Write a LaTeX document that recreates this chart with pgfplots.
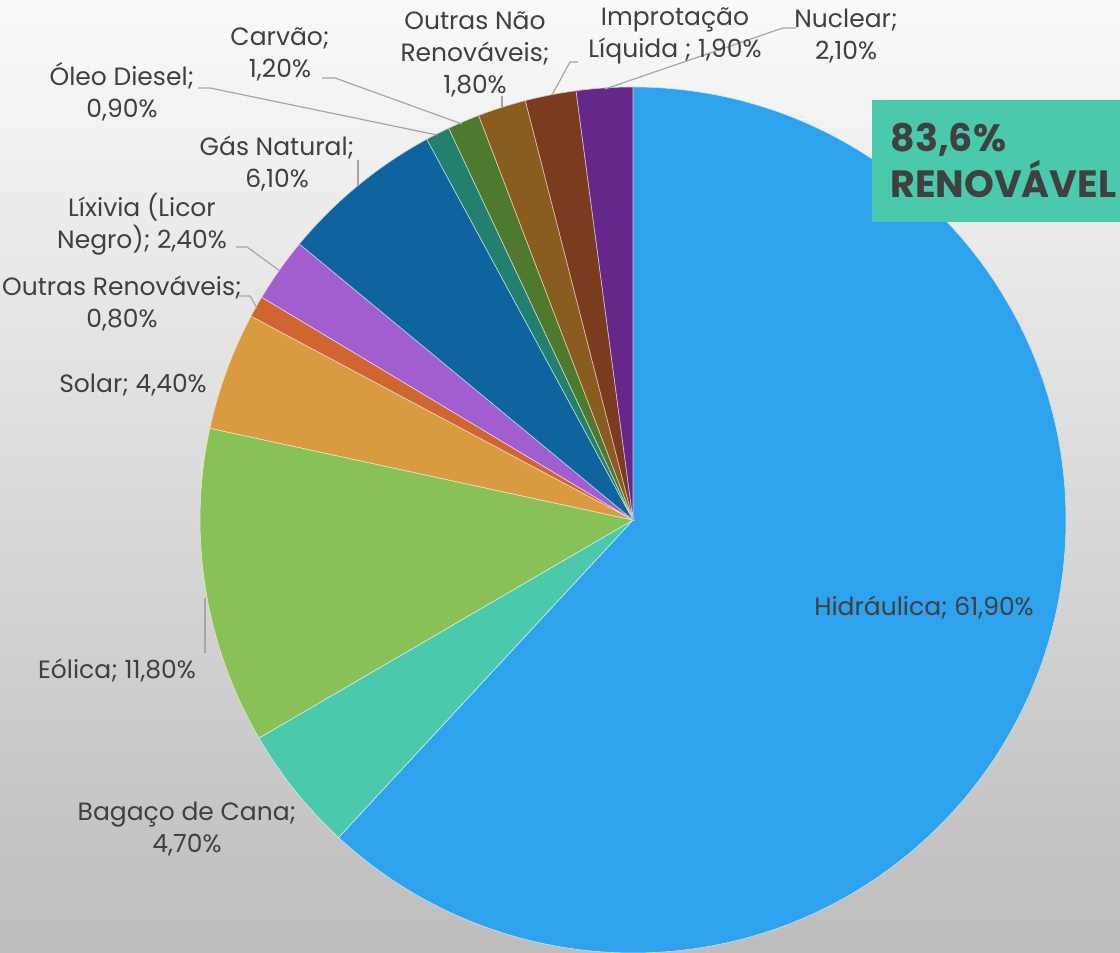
\documentclass[border=0pt]{standalone}
\usepackage{pgfplots}
\pgfplotsset{compat=1.18}
\usepackage{pgfplotstable}
\usepackage{fontspec}
\setmainfont{Poppins}

\definecolor{hidro}{HTML}{2EA2EC}
\definecolor{bagaco}{HTML}{4AC9AD}
\definecolor{eolica}{HTML}{88C157}
\definecolor{solar}{HTML}{D99B3F}
\definecolor{outrasren}{HTML}{D0652F}
\definecolor{lixivia}{HTML}{A15ED1}
\definecolor{gas}{HTML}{0E649E}
\definecolor{diesel}{HTML}{23806E}
\definecolor{carvao}{HTML}{4F7A2D}
\definecolor{outrasnao}{HTML}{8A5C1E}
\definecolor{importacao}{HTML}{7A3B1E}
\definecolor{nuclear}{HTML}{66278B}
\definecolor{txt}{HTML}{404040}
\definecolor{leader}{HTML}{A6A6A6}

% share of each source (%), clockwise from 12 o'clock
\pgfplotstableread{
value col
61.9 hidro
4.7  bagaco
11.8 eolica
4.4  solar
0.8  outrasren
2.4  lixivia
6.1  gas
0.9  diesel
1.2  carvao
1.8  outrasnao
1.9  importacao
2.1  nuclear
}\piedata

\begin{document}
\begin{tikzpicture}[
    lbl/.style={font=\fontsize{12.5}{16}\selectfont, text=txt, align=center, inner sep=0pt},
    ld/.style={draw=leader, line width=0.6pt},
]
\shade[top color=white!98!black, middle color=black!9, bottom color=black!26]
    (0,0) rectangle (560pt,476.5pt);
\begin{axis}[
    x=0.5pt, y=0.5pt,
    xmin=0, xmax=1120,
    ymin=0, ymax=953,
    hide axis,
    clip=false,
]
\pgfplotstablegetrowsof{\piedata}
\pgfmathtruncatemacro\lastrow{\pgfplotsretval-1}
\def\cum{0}
\pgfplotsforeachungrouped \i in {0,...,\lastrow}{%
    \pgfplotstablegetelem{\i}{value}\of\piedata \let\val\pgfplotsretval
    \pgfplotstablegetelem{\i}{col}\of\piedata \let\col\pgfplotsretval
    \pgfmathsetmacro\sa{90-3.6*\cum}%
    \pgfmathsetmacro\ea{90-3.6*(\cum+\val)}%
    \edef\slice{\noexpand\fill[\col, draw=white!70!\col, line width=0.3pt]
        (axis cs:633,433) -- (axis cs:{633+433*cos(\sa)},{433+433*sin(\sa)})
        arc[start angle=\sa, end angle=\ea, radius=216.5pt] -- cycle;}%
    \slice
    \pgfmathsetmacro\cum{\cum+\val}%
}

% leader lines
\draw[ld] (axis cs:205,355) -- (axis cs:205,300);
\draw[ld] (axis cs:239,657) -- (axis cs:250,657) -- (axis cs:257,645);
\draw[ld] (axis cs:236,706) -- (axis cs:247,706) -- (axis cs:280,682);
\draw[ld] (axis cs:358,793) -- (axis cs:358,767);
\draw[ld] (axis cs:198,865) -- (axis cs:210,865) -- (axis cs:437,818);
\draw[ld] (axis cs:322,875) -- (axis cs:335,875) -- (axis cs:462,829);
\draw[ld] (axis cs:502,857) -- (axis cs:502,846);
\draw[ld] (axis cs:578,891) -- (axis cs:570,891) -- (axis cs:552,858);
\draw[ld] (axis cs:796,925) -- (axis cs:783,925) -- (axis cs:605,864);

% data labels
\node[lbl] at (axis cs:924,345) {Hidráulica; 61,90\%};
\node[lbl] at (axis cs:187,124) {Bagaço de Cana;\\4,70\%};
\node[lbl] at (axis cs:117,283) {Eólica; 11,80\%};
\node[lbl] at (axis cs:133,568) {Solar; 4,40\%};
\node[lbl] at (axis cs:122,649) {Outras Renováveis;\\0,80\%};
\node[lbl] at (axis cs:142,729) {Líxivia (Licor\\Negro); 2,40\%};
\node[lbl] at (axis cs:277,789) {Gás Natural;\\6,10\%};
\node[lbl] at (axis cs:122,861) {Óleo Diesel;\\0,90\%};
\node[lbl] at (axis cs:280,899) {Carvão;\\1,20\%};
\node[lbl] at (axis cs:475,899) {Outras Não\\Renováveis;\\1,80\%};
\node[lbl] at (axis cs:675,917) {Improtação\\Líquida ; 1,90\%};
\node[lbl] at (axis cs:846,917) {Nuclear;\\2,10\%};

% highlight box
\fill[bagaco] (axis cs:872,853) rectangle (axis cs:1130,731);
\node[anchor=base west, inner sep=0pt, text=txt, font=\fontsize{19}{19}\selectfont\bfseries]
    at (axis cs:890,801) {83,6\%};
\node[anchor=base west, inner sep=0pt, text=txt, font=\fontsize{19}{19}\selectfont\bfseries]
    at (axis cs:890,755) {RENOVÁVEL};
\end{axis}
\pgfresetboundingbox
\path (0,0) rectangle (560pt,476.5pt);
\end{tikzpicture}
\end{document}
